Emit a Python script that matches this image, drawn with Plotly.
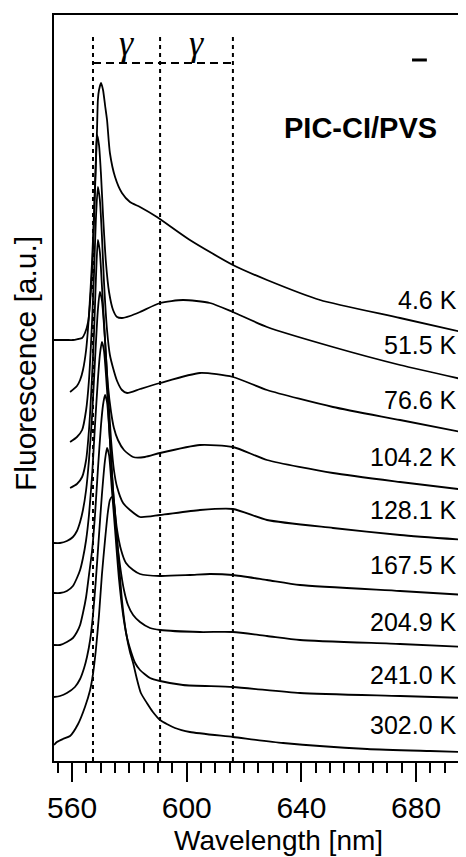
import plotly.graph_objects as go

# ---------------- data (wavelength in nm, fluorescence in a.u., stacked) ----------------
temps = ["4.6 K", "51.5 K", "76.6 K", "104.2 K", "128.1 K", "167.5 K", "204.9 K", "241.0 K", "302.0 K"]

wl_4_6 = [553.7, 558.2, 560.3, 562.1, 563.5, 564.5, 565.6, 566.6, 567.3, 568.0, 568.7, 569.0, 569.4, 570.1,
          570.8, 571.5, 572.2, 573.2, 575.0, 577.4, 580.2, 583.7, 589.6, 601.1, 616.1, 628.0, 646.5, 674.4, 697.4]
fl_4_6 = [1.684, 1.684, 1.684, 1.688, 1.692, 1.712, 1.756, 1.884, 2.044, 2.284, 2.524, 2.644, 2.684, 2.712,
          2.684, 2.624, 2.564, 2.432, 2.336, 2.272, 2.236, 2.216, 2.176, 2.084, 1.984, 1.924, 1.844, 1.772, 1.712]

wl_51_5 = [559.3, 561.7, 562.8, 563.8, 564.9, 565.9, 567.0, 567.7, 568.3, 568.7, 569.4, 570.1, 570.8, 571.8,
           572.9, 574.3, 575.7, 577.4, 580.2, 583.7, 590.7, 598.7, 608.1, 616.1, 628.0, 651.0, 674.4, 697.4]
fl_51_5 = [1.476, 1.500, 1.524, 1.564, 1.644, 1.784, 2.004, 2.204, 2.404, 2.504, 2.464, 2.344, 2.184, 1.996,
           1.876, 1.804, 1.776, 1.772, 1.780, 1.796, 1.832, 1.844, 1.832, 1.796, 1.736, 1.656, 1.584, 1.524]

wl_76_6 = [559.3, 561.7, 563.5, 564.9, 565.9, 567.0, 567.7, 568.3, 569.0, 569.7, 570.4, 571.1, 572.2, 573.2,
           574.3, 575.7, 577.4, 579.2, 583.7, 590.7, 604.6, 616.1, 628.0, 651.0, 674.4, 697.4]
fl_76_6 = [1.276, 1.296, 1.324, 1.404, 1.524, 1.764, 1.964, 2.164, 2.296, 2.244, 2.104, 1.924, 1.724, 1.624,
           1.572, 1.520, 1.484, 1.472, 1.488, 1.512, 1.552, 1.536, 1.484, 1.416, 1.364, 1.312]

wl_104_2 = [559.3, 561.7, 563.5, 564.9, 565.9, 567.0, 567.7, 568.3, 569.0, 569.7, 570.4, 571.5, 572.5, 573.6,
            574.6, 576.0, 578.1, 581.3, 585.4, 590.7, 604.6, 616.1, 628.0, 651.0, 674.4, 697.4]
fl_104_2 = [1.092, 1.108, 1.136, 1.204, 1.324, 1.544, 1.724, 1.924, 2.084, 2.036, 1.904, 1.684, 1.504, 1.396,
            1.332, 1.284, 1.244, 1.216, 1.216, 1.232, 1.264, 1.256, 1.204, 1.152, 1.116, 1.084]

wl_128_1 = [553.7, 555.8, 558.2, 560.3, 561.7, 562.8, 563.8, 564.9, 565.9, 567.0, 568.0, 569.0, 569.7, 570.4,
            571.5, 572.5, 573.6, 574.6, 575.7, 577.8, 580.2, 583.7, 590.7, 604.6, 616.1, 628.0, 651.0, 674.4, 697.4]
fl_128_1 = [0.872, 0.872, 0.880, 0.896, 0.920, 0.956, 1.004, 1.084, 1.204, 1.384, 1.604, 1.804, 1.876, 1.844,
            1.684, 1.484, 1.284, 1.164, 1.096, 1.032, 1.004, 0.976, 0.984, 1.004, 1.008, 0.964, 0.932, 0.904, 0.884]

wl_167_5 = [553.7, 555.8, 558.2, 560.3, 561.7, 562.8, 563.8, 564.9, 565.9, 567.0, 568.0, 569.0, 569.7, 570.4,
            571.1, 572.2, 573.2, 574.3, 575.7, 577.1, 578.8, 581.3, 583.7, 590.7, 601.1, 608.1, 616.1, 628.0,
            639.5, 674.4, 697.4]
fl_167_5 = [0.672, 0.672, 0.680, 0.700, 0.732, 0.764, 0.812, 0.884, 0.984, 1.144, 1.344, 1.524, 1.624, 1.676,
            1.644, 1.484, 1.284, 1.084, 0.924, 0.844, 0.792, 0.764, 0.748, 0.740, 0.744, 0.748, 0.744, 0.724,
            0.704, 0.680, 0.664]

wl_204_9 = [553.7, 555.8, 558.2, 560.3, 561.7, 562.8, 563.8, 564.9, 565.9, 567.0, 568.0, 569.0, 570.1, 570.8,
            571.5, 572.2, 573.2, 574.3, 575.3, 576.7, 578.1, 579.5, 581.3, 583.7, 587.2, 590.7, 604.6, 616.1,
            628.0, 639.5, 674.4, 697.4]
fl_204_9 = [0.464, 0.464, 0.476, 0.492, 0.516, 0.544, 0.592, 0.656, 0.744, 0.844, 0.984, 1.164, 1.344, 1.424,
            1.464, 1.436, 1.284, 1.084, 0.924, 0.784, 0.684, 0.624, 0.584, 0.556, 0.532, 0.524, 0.516, 0.516,
            0.500, 0.484, 0.468, 0.456]

wl_241_0 = [553.7, 555.8, 558.2, 561.0, 562.8, 564.2, 565.2, 566.3, 567.3, 568.3, 569.4, 570.4, 571.5, 572.2,
            572.9, 573.9, 575.0, 576.4, 577.8, 579.2, 580.6, 582.0, 583.7, 587.2, 590.7, 598.7, 616.1, 639.5,
            674.4, 697.4]
fl_241_0 = [0.256, 0.260, 0.272, 0.296, 0.328, 0.372, 0.416, 0.484, 0.584, 0.724, 0.904, 1.064, 1.204, 1.252,
            1.224, 1.084, 0.924, 0.724, 0.584, 0.492, 0.436, 0.392, 0.364, 0.332, 0.320, 0.304, 0.296, 0.272,
            0.260, 0.252]

wl_302_0 = [553.7, 554.7, 556.8, 559.3, 562.1, 564.5, 566.3, 567.3, 568.3, 569.4, 570.4, 571.5, 572.5, 573.2,
            573.9, 574.6, 575.3, 576.4, 577.4, 578.8, 580.2, 581.3, 582.7, 584.0, 586.1, 588.2, 590.7, 595.9,
            601.1, 616.1, 633.6, 662.9, 684.9, 697.4]
fl_302_0 = [0.064, 0.076, 0.088, 0.100, 0.148, 0.216, 0.284, 0.348, 0.444, 0.584, 0.744, 0.884, 0.996, 1.044,
            1.056, 1.036, 0.944, 0.784, 0.644, 0.516, 0.436, 0.392, 0.324, 0.272, 0.232, 0.196, 0.164, 0.132,
            0.116, 0.096, 0.072, 0.048, 0.040, 0.036]

label_y = [1.844, 1.664, 1.444, 1.216, 1.004, 0.784, 0.556, 0.344, 0.144]
gamma_lines_nm = [567.3, 590.7, 616.1]
xticks = [560, 600, 640, 680]

# ---------------- figure ----------------
FONT = "Liberation Sans, Arial, sans-serif"
fig = go.Figure()

series = [(wl_4_6, fl_4_6), (wl_51_5, fl_51_5), (wl_76_6, fl_76_6), (wl_104_2, fl_104_2),
          (wl_128_1, fl_128_1), (wl_167_5, fl_167_5), (wl_204_9, fl_204_9), (wl_241_0, fl_241_0),
          (wl_302_0, fl_302_0)]
for (wl, fl), t in zip(series, temps):
    fig.add_trace(go.Scatter(x=wl, y=fl, mode="lines", name=t,
                             line=dict(color="black", width=1.8, shape="spline", smoothing=0.6),
                             hoverinfo="skip", showlegend=False))

for t, ly in zip(temps, label_y):
    fig.add_annotation(x=694.8, y=ly, xref="x", yref="y", text=t, showarrow=False,
                       xanchor="right", yanchor="middle", font=dict(family=FONT, size=25, color="black"))

# gamma marker lines
y_top = 2.912
y_bar = 2.792
for g in gamma_lines_nm:
    fig.add_shape(type="line", x0=g, x1=g, y0=0, y1=y_top, xref="x", yref="y",
                  line=dict(color="black", width=2, dash="4px,4px"))
fig.add_shape(type="line", x0=gamma_lines_nm[0], x1=gamma_lines_nm[2], y0=y_bar, y1=y_bar,
              xref="x", yref="y", line=dict(color="black", width=2, dash="8px,5px"))
for a, b in zip(gamma_lines_nm[:-1], gamma_lines_nm[1:]):
    fig.add_annotation(x=(a + b) / 2, y=2.872, xref="x", yref="y", text="<i>γ</i>", showarrow=False,
                       xanchor="center", yanchor="middle",
                       font=dict(family="Liberation Serif, serif", size=36, color="black"))

fig.add_annotation(x=0.745, y=0.8485, xref="paper", yref="paper", text="<b>PIC-CI/PVS</b>",
                   showarrow=False, xanchor="center", yanchor="middle",
                   font=dict(family=FONT, size=29, color="black"))
fig.add_shape(type="line", x0=0.869, x1=0.905, y0=0.9397, y1=0.9397, xref="paper", yref="paper",
              line=dict(color="black", width=3))

fig.add_annotation(x=0.544, y=-0.106, xref="paper", yref="paper", text="Wavelength [nm]",
                   showarrow=False, xanchor="center", yanchor="middle",
                   font=dict(family=FONT, size=28, color="black"))
fig.add_annotation(x=-0.0704, y=0.5335, xref="paper", yref="paper", text="Fluorescence [a.u.]",
                   textangle=-90, showarrow=False, xanchor="center", yanchor="middle",
                   font=dict(family=FONT, size=30, color="black"))

fig.update_xaxes(range=[553.7, 697.4], tickvals=xticks, ticktext=[str(v) for v in xticks],
                 ticks="outside", ticklen=19, tickwidth=2, tickcolor="black",
                 minor=dict(dtick=5, tick0=560, ticks="outside", ticklen=10, tickwidth=2, tickcolor="black"),
                 showline=True, linewidth=2, linecolor="black", mirror=True,
                 showgrid=False, zeroline=False,
                 tickfont=dict(family=FONT, size=30, color="black"))
fig.update_yaxes(range=[0, 2.984], showticklabels=False, ticks="", showline=True, linewidth=2,
                 linecolor="black", showgrid=False, zeroline=False)

# the page adds an 8px body margin; size the figure so the plot sits where the reference has it
fig.update_layout(width=458, height=849, margin=dict(l=46, r=0, t=7, b=96),
                  paper_bgcolor="white", plot_bgcolor="white")

fig.write_html("out.html")
